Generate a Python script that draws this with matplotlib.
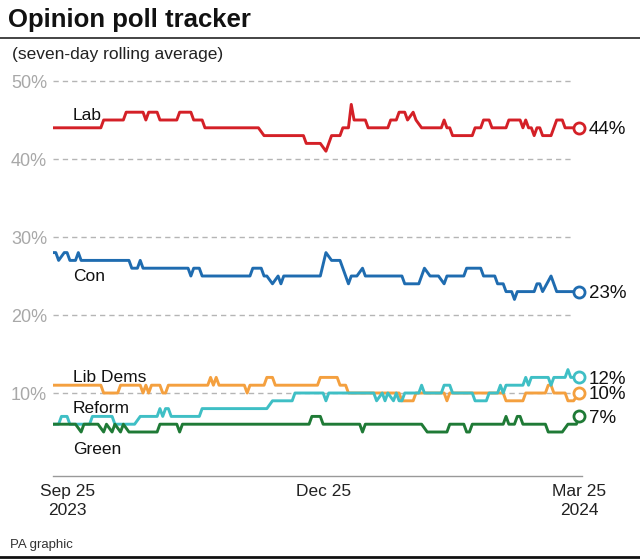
import matplotlib.pyplot as plt
import matplotlib.dates as mdates
import numpy as np
from matplotlib.lines import Line2D

plt.rcParams['font.family'] = ['Liberation Sans', 'DejaVu Sans']

# datos: dias desde el 20 sep 2023, valor en %
start = np.datetime64('2023-09-20')

lab_days = [0, 17, 18, 25, 26, 32, 33, 34, 37, 38, 44, 45, 49, 50, 53, 54, 73, 75, 89, 90, 95, 97, 99,
            102, 103, 105, 106, 107, 111, 112, 119, 120, 122, 123, 125, 126, 128, 129, 131, 138, 139,
            140, 141, 142, 149, 150, 152, 153, 155, 156, 161, 162, 166, 167, 168, 169, 170, 171, 172,
            173, 174, 177, 179, 181, 182, 187]
lab_vals = [44, 44, 45, 45, 46, 46, 45, 46, 46, 45, 45, 46, 46, 45, 45, 44, 44, 43, 43, 42, 42, 41, 43,
            43, 44, 44, 47, 45, 45, 44, 44, 45, 45, 46, 46, 45, 46, 45, 44, 44, 45,
            44, 44, 43, 43, 44, 44, 45, 45, 44, 44, 45, 45, 44, 45, 44, 44, 43, 44,
            44, 43, 43, 45, 45, 44, 44]

con_days = [0, 1, 2, 4, 5, 6, 8, 9, 10, 27, 28, 30, 31, 32, 48, 49, 50, 52, 53, 70, 71, 74, 75, 76, 78,
            80, 81, 82, 95, 97, 99, 102, 103, 104, 105, 106, 108, 110, 111, 124, 125, 130, 132, 134,
            137, 139, 140, 146, 147, 152, 153, 157, 158, 160, 161, 163, 164, 165, 171, 172, 173, 174,
            177, 179, 187]
con_vals = [28, 28, 27, 28, 28, 27, 27, 28, 27, 27, 26, 26, 27, 26, 26, 25, 26, 26, 25, 25, 26, 26, 25, 25, 24,
            25, 24, 25, 25, 28, 27, 27, 26, 25, 24, 25, 25, 26, 25, 25, 24, 24, 26, 25,
            25, 24, 25, 25, 26, 26, 25, 25, 24, 24, 23, 23, 22, 23, 23, 24, 24, 23,
            25, 23, 23]

ld_days = [0, 17, 18, 23, 24, 31, 32, 33, 34, 35, 38, 39, 40, 41, 55, 56, 57, 58, 59, 68, 69, 70, 75,
           76, 78, 79, 94, 95, 101, 102, 104, 105, 123, 124, 128, 129, 139, 140, 141, 160, 161, 167,
           168, 175, 176, 177, 178, 182, 183, 185, 187]
ld_vals = [11, 11, 10, 10, 11, 11, 10, 11, 10, 11, 11, 10, 10, 11, 11, 12, 11, 12, 11, 11, 10, 11, 11,
           12, 12, 11, 11, 12, 12, 11, 11, 10, 10, 9, 9, 10, 10, 9, 10, 10, 9, 9,
           10, 10, 11, 11, 10, 10, 9, 9, 10]

ref_days = [0, 2, 3, 5, 6, 13, 14, 21, 22, 29, 31, 37, 38, 39, 40, 41, 42, 52, 53, 76, 78, 85, 86, 96,
            97, 98, 114, 115, 117, 118, 119, 121, 122, 123, 124, 125, 130, 131, 132, 138, 139, 141,
            142, 149, 150, 154, 155, 158, 159, 160, 161, 167, 168, 169, 170, 176, 177, 178, 182, 183,
            184, 187]
ref_vals = [6, 6, 7, 7, 6, 6, 7, 7, 6, 6, 7, 7, 8, 7, 8, 8, 7, 7, 8, 8, 9, 9, 10, 10,
            9, 10, 10, 9, 10, 9, 10, 9, 10, 9, 9, 10, 10, 11, 10, 10, 11, 11,
            10, 10, 9, 9, 10, 10, 11, 10, 11, 11, 12, 11, 12, 12, 11, 12, 12, 13,
            12, 12]

grn_days = [0, 8, 10, 11, 16, 18, 19, 21, 22, 24, 25, 27, 37, 38, 44, 45, 46, 91, 92, 95, 96, 109, 110,
            111, 131, 133, 140, 141, 146, 147, 148, 149, 160, 161, 162, 164, 165, 166, 167, 175, 176,
            181, 183, 186, 187]
grn_vals = [6, 6, 5, 6, 6, 5, 6, 5, 6, 5, 6, 5, 5, 6, 6, 5, 6, 6, 7, 7, 6, 6, 5,
            6, 6, 5, 5, 6, 6, 5, 5, 6, 6, 7, 6, 6, 7, 7, 6, 6, 5,
            5, 6, 6, 7]

names = ['Lab', 'Con', 'Lib Dems', 'Reform', 'Green']
colors = ['#d42027', '#1f6cb0', '#f4a03f', '#3fbfc5', '#1f7a36']
label_y = [45.0, 24.3, 11.45, 7.4, 2.15]

series = [(lab_days, lab_vals), (con_days, con_vals), (ld_days, ld_vals),
          (ref_days, ref_vals), (grn_days, grn_vals)]

fig = plt.figure(figsize=(6.4, 5.59), dpi=100)
ax = fig.add_axes([53 / 640, 83 / 559, 529 / 640, 410.6 / 559])

for name, (d, v), c, ly in zip(names, series, colors, label_y):
    x = start + np.array(d, dtype='timedelta64[D]')
    ax.plot(x, v, color=c, lw=2.1, zorder=3)
    ax.plot(x[-1], v[-1], 'o', ms=8, mfc='white', mec=c, mew=2, zorder=5, clip_on=False)
    ax.annotate(f'{v[-1]}%', (x[-1], v[-1]), xytext=(7, -4.6), textcoords='offset points',
                va='baseline', ha='left', fontsize=13.5, color='#111111', annotation_clip=False)
    ax.text(start + np.timedelta64(7, 'D'), ly, name, fontsize=12.5, color='#111111',
            va='baseline', ha='left')

# rejilla discontinua
for g in [10, 20, 30, 40, 50]:
    ax.axhline(g, xmin=0, xmax=520 / 529, color='#b5b5b5', lw=1, dashes=(3.8, 2.9), zorder=1)

ax.set_xlim(start, start + np.timedelta64(188, 'D'))
ax.set_ylim(-0.64, 52)

ax.set_yticks([10, 20, 30, 40, 50])
ax.set_yticklabels(['10%', '20%', '30%', '40%', '50%'])
xt = [np.datetime64('2023-09-25'), np.datetime64('2023-12-25'), np.datetime64('2024-03-25')]
ax.set_xticks(mdates.date2num(xt))
ax.set_xticklabels(['Sep 25\n2023', 'Dec 25', 'Mar 25\n2024'], linespacing=1.3)

ax.tick_params(axis='y', length=0, pad=4.3, labelsize=13, labelcolor='#a8a8a8')
ax.tick_params(axis='x', length=0, pad=6, labelsize=12.5, labelcolor='#222222')
for s in ['top', 'right', 'left']:
    ax.spines[s].set_visible(False)
ax.spines['bottom'].set_color('#999999')
ax.spines['bottom'].set_linewidth(1)
ax.patch.set_alpha(0)

fig.text(8 / 640, 1 - 27 / 559, 'Opinion poll tracker', fontsize=18.5, fontweight='bold',
         va='baseline', ha='left', color='#111111')
fig.text(12 / 640, 1 - 59 / 559, '(seven-day rolling average)', fontsize=12.5,
         va='baseline', ha='left', color='#222222')
fig.add_artist(Line2D([0, 1], [1 - 38 / 559, 1 - 38 / 559], transform=fig.transFigure,
                      color='#111111', lw=1.1))
fig.text(10 / 640, 1 - 545 / 559, 'PA graphic', fontsize=9.5, va='center', ha='left',
         color='#333333')
fig.add_artist(Line2D([0, 1], [1 - 557 / 559, 1 - 557 / 559], transform=fig.transFigure,
                      color='#111111', lw=2))

fig.savefig('out.png', dpi=100)
